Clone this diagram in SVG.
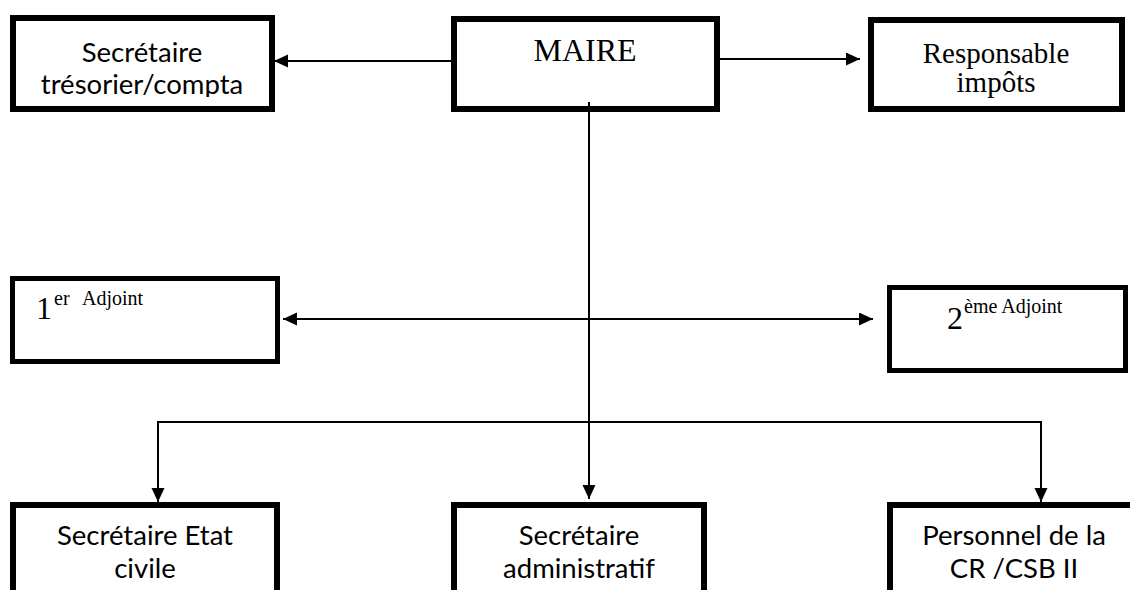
<svg xmlns="http://www.w3.org/2000/svg" width="1130" height="590" viewBox="0 0 1130 590">
<style>
.box{fill:#fff;stroke:#000;stroke-width:6}
.box5{fill:#fff;stroke:#000;stroke-width:5}
.sans{font-family:"Lato","Open Sans","Liberation Sans",sans-serif;font-size:27.5px;fill:#000;text-anchor:middle}
.serif{font-family:"Liberation Serif","Times New Roman",serif;fill:#000}
.conn{fill:none;stroke:#000;stroke-width:2}
</style>
<defs>
<marker id="arr" markerUnits="userSpaceOnUse" markerWidth="15" markerHeight="14" refX="14" refY="6.5" orient="auto-start-reverse">
<path d="M0,0 L14,6.5 L0,13 z" fill="#000"/>
</marker>
<clipPath id="clipTL"><rect x="16" y="21" width="253" height="76"/></clipPath>
</defs>
<g id="node-secretaire-tresorier">
<rect class="box" x="13" y="18" width="259" height="91"/>
<g clip-path="url(#clipTL)">
<text class="sans" x="142" y="62">Secrétaire</text>
<text class="sans" x="142" y="94">trésorier/compta</text>
</g>
</g>
<g id="node-maire">
<rect class="box" x="454" y="19" width="263" height="90"/>
<text class="serif" x="585" y="61" font-size="32" text-anchor="middle">MAIRE</text>
</g>
<g id="node-responsable-impots">
<rect class="box" x="871" y="20" width="251" height="89"/>
<text class="serif" x="996" y="63" font-size="29" text-anchor="middle">Responsable</text>
<text class="serif" x="996" y="92" font-size="29" text-anchor="middle">impôts</text>
</g>
<g id="node-adjoint1">
<rect class="box5" x="12.5" y="278.5" width="265" height="83"/>
<text class="serif" x="36" y="319" font-size="32">1</text>
<text class="serif" x="54" y="305" font-size="20">er</text>
<text class="serif" x="82" y="305" font-size="20">Adjoint</text>
</g>
<g id="node-adjoint2">
<rect class="box5" x="889.5" y="287.5" width="236" height="83"/>
<text class="serif" x="947" y="329" font-size="32">2</text>
<text class="serif" x="964" y="313" font-size="20">ème Adjoint</text>
</g>
<g id="node-secretaire-etat-civile">
<rect class="box" x="13" y="505" width="264" height="100"/>
<text class="sans" x="145" y="545">Secrétaire Etat</text>
<text class="sans" x="145" y="578">civile</text>
</g>
<g id="node-secretaire-administratif">
<rect class="box" x="454" y="505" width="250" height="100"/>
<text class="sans" x="579" y="545">Secrétaire</text>
<text class="sans" x="579" y="578">administratif</text>
</g>
<g id="node-personnel">
<rect class="box" x="890" y="505" width="260" height="100"/>
<text class="sans" x="1014" y="545">Personnel de la</text>
<text class="sans" x="1014" y="578">CR /CSB II</text>
</g>
<g id="connectors">
<line class="conn" x1="451" y1="61" x2="274" y2="61" marker-end="url(#arr)"/>
<line class="conn" x1="720" y1="59" x2="860" y2="59" marker-end="url(#arr)"/>
<line class="conn" x1="589" y1="102" x2="589" y2="499" marker-end="url(#arr)"/>
<line class="conn" x1="283" y1="319" x2="873" y2="319" marker-start="url(#arr)" marker-end="url(#arr)"/>
<polyline class="conn" points="158,502 158,422 1041,422 1041,502" marker-start="url(#arr)" marker-end="url(#arr)"/>
</g>
</svg>
